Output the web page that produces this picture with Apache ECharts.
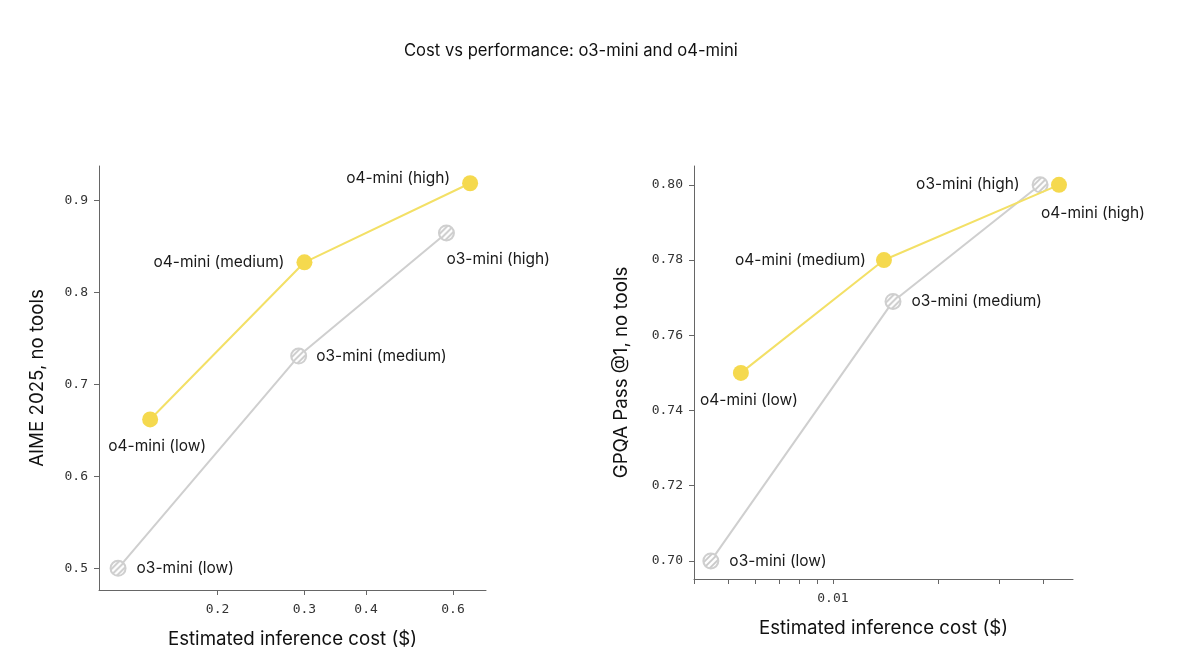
<!DOCTYPE html>
<html>
<head>
<meta charset="utf-8">
<title>Cost vs performance: o3-mini and o4-mini</title>
<script src="https://cdn.jsdelivr.net/npm/echarts@6/dist/echarts.min.js"></script>
<style>
  html, body { margin: 0; padding: 0; background: #fff; }
  #main { width: 1200px; height: 660px; }
</style>
</head>
<body>
<div id="main"></div>
<script>
// effort levels, same order in every series
const levels = ['low', 'medium', 'high'];

// AIME 2025 panel (x = cost in $, y = score)
const aimeO3Cost = [0.1257, 0.292, 0.582];
const aimeO3Score = [0.500, 0.731, 0.865];
const aimeO4Cost = [0.146, 0.300, 0.650];
const aimeO4Score = [0.662, 0.833, 0.919];

// GPQA panel
const gpqaO3Cost = [0.00447, 0.01486, 0.0392];
const gpqaO3Score = [0.700, 0.769, 0.800];
const gpqaO4Cost = [0.00545, 0.0140, 0.0444];
const gpqaO4Score = [0.750, 0.780, 0.800];

// ticks
const aimeCostTicks = [0.2, 0.3, 0.4, 0.6];
const aimeScoreTicks = [0.5, 0.6, 0.7, 0.8, 0.9];
const gpqaCostTicks = [0.004, 0.005, 0.006, 0.007, 0.008, 0.009, 0.01, 0.02, 0.03, 0.04];
const gpqaCostLabels = [0.01];
const gpqaScoreTicks = [0.70, 0.72, 0.74, 0.76, 0.78, 0.80];

const YELLOW = '#f5d94e';
const YELLOW_LINE = '#f3e066';
const GRAY = '#cfcfcf';
const SANS = 'Inter, "Noto Sans", sans-serif';
const MONO = '"DejaVu Sans Mono", "Liberation Mono", monospace';
const O3_SIZE = 15;

// hatched fill for the o3-mini markers
function hatch() {
  const s = 6;
  const c = document.createElement('canvas');
  c.width = s;
  c.height = s;
  const ctx = c.getContext('2d');
  ctx.fillStyle = '#ffffff';
  ctx.fillRect(0, 0, s, s);
  ctx.strokeStyle = '#c8c8c8';
  ctx.lineWidth = 1.8;
  ctx.beginPath();
  ctx.moveTo(0, s); ctx.lineTo(s, 0);
  ctx.moveTo(-2, 2); ctx.lineTo(2, -2);
  ctx.moveTo(s - 2, s + 2); ctx.lineTo(s + 2, s - 2);
  ctx.stroke();
  return c;
}
// symbols are drawn at unit size and scaled up, so shrink the pattern back
const hatchFill = {
  image: hatch(),
  repeat: 'repeat',
  scaleX: 2 / O3_SIZE,
  scaleY: 2 / O3_SIZE
};

// where each point label sits
const labelPlace = {
  aime: {
    o3: [
      { position: 'right', distance: 10 },
      { position: 'right', distance: 9 },
      { position: 'bottom', align: 'left', distance: 10 }
    ],
    o4: [
      { position: 'bottom', distance: 11, offset: [7, 0] },
      { position: 'left', distance: 12 },
      { position: 'left', distance: 12, offset: [0, -5] }
    ]
  },
  gpqa: {
    o3: [
      { position: 'right', distance: 10 },
      { position: 'right', distance: 10 },
      { position: 'left', distance: 12 }
    ],
    o4: [
      { position: 'bottom', distance: 11, offset: [8, 0] },
      { position: 'left', distance: 10 },
      { position: 'bottom', align: 'left', distance: 13, offset: [-18, 0] }
    ]
  }
};

function points(model, panel, costs, scores) {
  return costs.map((c, i) => ({
    value: [c, scores[i]],
    name: model + '-mini (' + levels[i] + ')',
    label: labelPlace[panel][model][i]
  }));
}

function makeSeries(model, panel, idx, costs, scores) {
  const o4 = model === 'o4';
  return {
    type: 'line',
    name: model + '-mini',
    xAxisIndex: idx,
    yAxisIndex: idx,
    data: points(model, panel, costs, scores),
    symbol: 'circle',
    symbolSize: o4 ? 16 : O3_SIZE,
    z: o4 ? 3 : 2,
    lineStyle: { color: o4 ? YELLOW_LINE : GRAY, width: 2 },
    itemStyle: o4
      ? { color: YELLOW }
      : { color: hatchFill, borderColor: GRAY, borderWidth: 2 },
    label: {
      show: true,
      formatter: p => p.name,
      fontFamily: SANS,
      fontSize: 15.5,
      color: '#1a1a1a'
    },
    emphasis: { disabled: true },
    animation: false
  };
}

const axisLine = { show: true, onZero: false, lineStyle: { color: '#666', width: 1 } };
const tickStyle = { color: '#666', width: 1 };
const monoLabel = { fontFamily: MONO, fontSize: 13, color: '#333' };
const nameStyle = { fontFamily: SANS, fontSize: 18.7, color: '#111' };

function costFmt(v) { return String(+(+v).toPrecision(2)); }

const chart = echarts.init(document.getElementById('main'), null, { renderer: 'canvas' });
chart.setOption({
  backgroundColor: '#fff',
  animation: false,
  title: {
    text: 'Cost vs performance: o3-mini and o4-mini',
    left: 399,
    top: 37,
    textStyle: { fontFamily: SANS, fontSize: 16.6, fontWeight: 'normal', color: '#111' }
  },
  grid: [
    { left: 99, top: 166, width: 387, height: 424 },
    { left: 694, top: 166, width: 379, height: 413 }
  ],
  xAxis: [
    {
      type: 'log', gridIndex: 0, min: 0.115, max: 0.70,
      axisLine: axisLine,
      axisTick: { show: true, length: 5, customValues: aimeCostTicks, lineStyle: tickStyle },
      axisLabel: Object.assign({ customValues: aimeCostTicks, margin: 13, formatter: costFmt }, monoLabel),
      minorTick: { show: false },
      splitLine: { show: false },
      name: 'Estimated inference cost ($)', nameLocation: 'middle', nameGap: 40,
      nameTextStyle: nameStyle
    },
    {
      type: 'log', gridIndex: 1, min: 0.004, max: 0.0487,
      axisLine: axisLine,
      axisTick: { show: true, length: 5, customValues: gpqaCostTicks, lineStyle: tickStyle },
      axisLabel: Object.assign({ customValues: gpqaCostLabels, margin: 13, formatter: costFmt }, monoLabel),
      minorTick: { show: false },
      splitLine: { show: false },
      name: 'Estimated inference cost ($)', nameLocation: 'middle', nameGap: 40,
      nameTextStyle: nameStyle
    }
  ],
  yAxis: [
    {
      type: 'value', gridIndex: 0, min: 0.4764, max: 0.9378,
      axisLine: axisLine,
      axisTick: { show: true, length: 5, customValues: aimeScoreTicks, lineStyle: tickStyle },
      axisLabel: Object.assign({ customValues: aimeScoreTicks, margin: 11, formatter: v => (+v).toFixed(1) }, monoLabel),
      splitLine: { show: false },
      name: 'AIME 2025, no tools', nameLocation: 'middle', nameGap: 52,
      nameTextStyle: nameStyle
    },
    {
      type: 'value', gridIndex: 1, min: 0.6952, max: 0.8050,
      axisLine: axisLine,
      axisTick: { show: true, length: 5, customValues: gpqaScoreTicks, lineStyle: tickStyle },
      axisLabel: Object.assign({ customValues: gpqaScoreTicks, margin: 11, formatter: v => (+v).toFixed(2) }, monoLabel),
      splitLine: { show: false },
      name: 'GPQA Pass @1, no tools', nameLocation: 'middle', nameGap: 63,
      nameTextStyle: nameStyle
    }
  ],
  series: [
    makeSeries('o3', 'aime', 0, aimeO3Cost, aimeO3Score),
    makeSeries('o4', 'aime', 0, aimeO4Cost, aimeO4Score),
    makeSeries('o3', 'gpqa', 1, gpqaO3Cost, gpqaO3Score),
    makeSeries('o4', 'gpqa', 1, gpqaO4Cost, gpqaO4Score)
  ]
});
</script>
</body>
</html>
